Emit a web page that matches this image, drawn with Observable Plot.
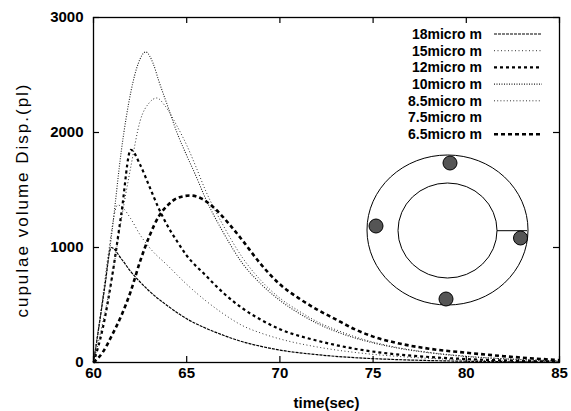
<!DOCTYPE html>
<html><head><meta charset="utf-8">
<script src="https://cdn.jsdelivr.net/npm/d3@7"></script>
<script src="https://cdn.jsdelivr.net/npm/@observablehq/plot@0.6"></script>
<style>body{margin:0;background:#fff}#chart svg{display:block}</style>
</head><body><div id="chart"></div>
<script>
// ---- data ----
const seriesNames = ["18micro m","15micro m","12micro m","10micro m","8.5micro m","7.5micro m","6.5micro m"];
const xTicks = [60,65,70,75,80,85];
const yTicks = [0,1000,2000,3000];
const xLabel = "time(sec)";
const yLabel = "cupulae volume Disp.(pl)";

const t18 = [60,60.3,60.6,60.95,61.5,62,62.5,63,64,65,66,67,68,69,70,72,74,76,78,80,82,85];
const v18 = [0,320,650,1000,900,790,700,620,490,380,300,235,180,140,108,68,42,27,17,11,7,3];

const t15 = [60,60.4,60.8,61.3,61.6,62,62.5,63,64,65,66,67,68,69,70,72,74,76,78,80,82,85];
const v15 = [0,450,950,1370,1340,1250,1110,1000,840,680,540,420,320,255,205,135,88,57,36,23,14,6];

const t12 = [60,60.5,61,61.5,62,62.5,63,63.5,64,64.5,65,66,67,68,69,70,72,74,76,78,80,82,85];
const v12 = [0,300,750,1300,1850,1720,1530,1340,1180,1050,930,760,600,470,370,290,190,120,75,48,30,18,7];

const t10 = [60,60.5,61,61.5,62,62.4,62.8,63.2,63.5,64,64.5,65,65.5,66,67,68,69,70,71,72,73,74,76,78,80,82,85];
const v10 = [0,550,1150,1850,2350,2600,2700,2600,2450,2220,1990,1800,1620,1430,1120,860,680,540,430,340,270,215,135,85,52,32,14];

const t85 = [60,60.5,61,61.5,62,62.5,63,63.4,63.8,64.5,65,65.5,66,67,68,69,70,71,72,73,74,76,78,80,82,85];
const v85 = [0,350,750,1250,1700,2100,2260,2300,2240,2050,1890,1700,1500,1180,910,710,560,450,355,285,225,140,88,55,33,15];

const t65 = [60,60.5,61,61.5,62,62.5,63,63.5,64,64.5,65.2,65.8,66.5,67.3,68,68.9,70,71,72,73,74,75,76,78,80,82,85];
const v65 = [0,90,240,410,620,880,1100,1270,1370,1430,1452,1425,1340,1200,1060,870,680,560,460,375,290,225,180,120,85,55,20];

// ---- styles per series (7.5micro m has no visible curve/sample) ----
const styles = {
  "18micro m": {stroke:"#000", strokeWidth:1.2, strokeDasharray:"3,1"},
  "15micro m": {stroke:"#333", strokeWidth:1, strokeDasharray:"1,2.5"},
  "12micro m": {stroke:"#000", strokeWidth:2.2, strokeDasharray:"3,3"},
  "10micro m": {stroke:"#222", strokeWidth:1.1, strokeDasharray:"1,1.5"},
  "8.5micro m": {stroke:"#333", strokeWidth:1, strokeDasharray:"1,2.2"},
  "7.5micro m": null,
  "6.5micro m": {stroke:"#000", strokeWidth:2.6, strokeDasharray:"4,3"}
};

const series = [
  {name:"18micro m", t:t18, v:v18},
  {name:"15micro m", t:t15, v:v15},
  {name:"12micro m", t:t12, v:v12},
  {name:"10micro m", t:t10, v:v10},
  {name:"8.5micro m", t:t85, v:v85},
  {name:"6.5micro m", t:t65, v:v65}
];

const W = 571, H = 411, mL = 93, mR = 12, mT = 17, mB = 49;
const fw = W - mL - mR, fh = H - mT - mB, tl = 6;

const lineMarks = series.map(s => Plot.line(s.t.map((t,i)=>({t, v:s.v[i]})), {
  x:"t", y:"v", curve:"monotone-x", strokeLinecap:"butt", ...styles[s.name]
}));

const chart = Plot.plot({
  width: W, height: H,
  marginLeft: mL, marginRight: mR, marginTop: mT, marginBottom: mB,
  style: {fontFamily: "'Liberation Sans', Arial, sans-serif", background: "#fff", color: "#000", overflow: "visible"},
  x: {domain: [60,85]},
  y: {domain: [0,3000]},
  marks: [
    ...lineMarks,
    Plot.frame({stroke:"#000", strokeWidth:1.3}),
    // inward ticks on all four sides
    Plot.tickX(xTicks, {x: d=>d, insetTop: fh - tl, stroke:"#000", strokeWidth:1.2}),
    Plot.tickX(xTicks, {x: d=>d, insetBottom: fh - tl, stroke:"#000", strokeWidth:1.2}),
    Plot.tickY(yTicks, {y: d=>d, insetRight: fw - tl, stroke:"#000", strokeWidth:1.2}),
    Plot.tickY(yTicks, {y: d=>d, insetLeft: fw - tl, stroke:"#000", strokeWidth:1.2}),
    Plot.axisX(xTicks, {tickSize:0, tickPadding:5, fontSize:15, fontWeight:"bold", label:null, tickFormat:d=>String(d)}),
    Plot.axisY(yTicks, {tickSize:0, tickPadding:10, fontSize:15, fontWeight:"bold", label:null, tickFormat:d=>String(d)}),
    Plot.text([xLabel], {text:d=>d, frameAnchor:"bottom", dy:45, fontSize:15, fontWeight:"bold"}),
    Plot.text([yLabel], {text:d=>d, frameAnchor:"left", textAnchor:"middle", rotate:-90, dx:-71, dy:10, fontSize:17})
  ]
});

const svg = d3.select(chart);
svg.selectAll("text").attr("fill","#000");
svg.selectAll("text").filter(function(){return this.textContent===yLabel;}).style("letter-spacing","2px");

// legend
const lg = svg.append("g").attr("font-family","'Liberation Sans', Arial, sans-serif").attr("font-size",14).attr("font-weight","bold");
seriesNames.forEach((name,i) => {
  const y = 34 + i*16.7;
  lg.append("text").attr("x",482).attr("y",y).attr("dy","0.35em").attr("text-anchor","end").attr("fill","#000").text(name);
  const st = styles[name];
  if (st) lg.append("line").attr("x1",494).attr("x2",542).attr("y1",y).attr("y2",y)
    .attr("stroke",st.stroke).attr("stroke-width",st.strokeWidth).attr("stroke-dasharray",st.strokeDasharray);
});

// inset diagram
const ins = svg.append("g").attr("fill","none").attr("stroke","#000").attr("stroke-width",1);
ins.append("ellipse").attr("cx",447.5).attr("cy",230).attr("rx",80.5).attr("ry",75);
ins.append("ellipse").attr("cx",447.5).attr("cy",230.5).attr("rx",49.5).attr("ry",47.5);
ins.append("line").attr("x1",497).attr("x2",527).attr("y1",230.7).attr("y2",230.7);
[[450,163],[376,226],[520.5,238],[446,299]].forEach(([x,y]) =>
  ins.append("circle").attr("cx",x).attr("cy",y).attr("r",7).attr("fill","#555").attr("stroke","#000"));

document.getElementById("chart").appendChild(chart);
</script></body></html>
